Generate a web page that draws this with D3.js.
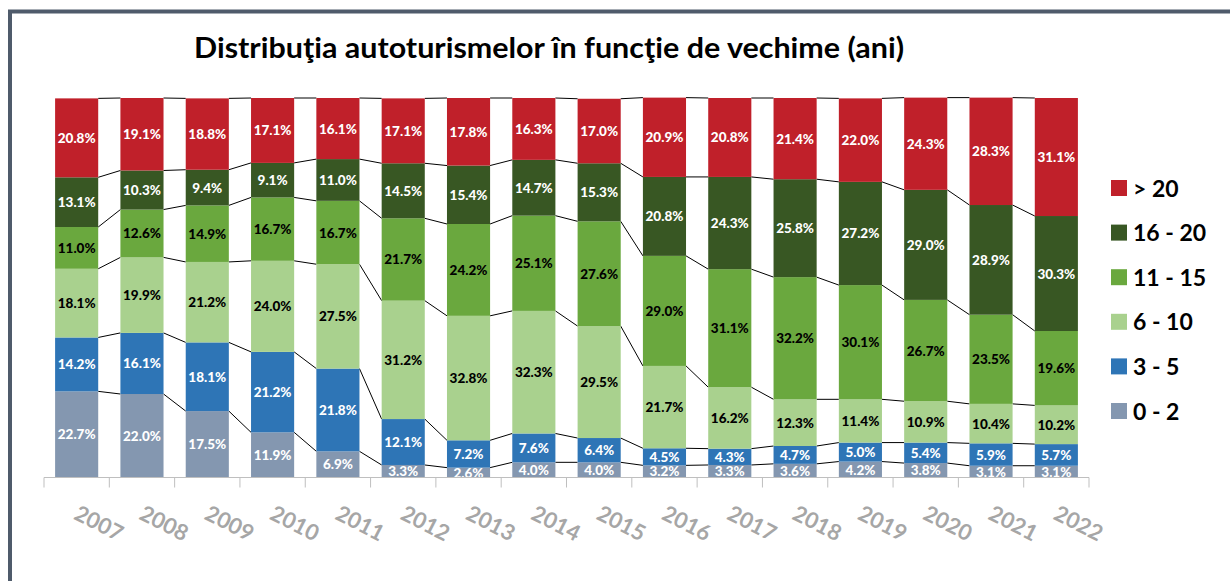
<!DOCTYPE html>
<html>
<head>
<meta charset="utf-8">
<script src="https://cdn.jsdelivr.net/npm/d3@7"></script>
<style>
  html, body { margin: 0; padding: 0; background: #ffffff; }
  svg { display: block; }
</style>
</head>
<body>
<svg id="chart" width="1230" height="581"></svg>
<script>
const years = ["2007","2008","2009","2010","2011","2012","2013","2014","2015","2016","2017","2018","2019","2020","2021","2022"];
const seriesNames = ["0 - 2","3 - 5","6 - 10","11 - 15","16 - 20","> 20"];
const age0_2   = [22.7,22.0,17.5,11.9,6.9,3.3,2.6,4.0,4.0,3.2,3.3,3.6,4.2,3.8,3.1,3.1];
const age3_5   = [14.2,16.1,18.1,21.2,21.8,12.1,7.2,7.6,6.4,4.5,4.3,4.7,5.0,5.4,5.9,5.7];
const age6_10  = [18.1,19.9,21.2,24.0,27.5,31.2,32.8,32.3,29.5,21.7,16.2,12.3,11.4,10.9,10.4,10.2];
const age11_15 = [11.0,12.6,14.9,16.7,16.7,21.7,24.2,25.1,27.6,29.0,31.1,32.2,30.1,26.7,23.5,19.6];
const age16_20 = [13.1,10.3,9.4,9.1,11.0,14.5,15.4,14.7,15.3,20.8,24.3,25.8,27.2,29.0,28.9,30.3];
const age20p   = [20.8,19.1,18.8,17.1,16.1,17.1,17.8,16.3,17.0,20.9,20.8,21.4,22.0,24.3,28.3,31.1];
const colors = ["#8497b0","#2e75b6","#a9d18e","#6aa83e","#385723","#c0202a"];
const labelColors = ["#ffffff","#ffffff","#000000","#000000","#ffffff","#ffffff"];
const titleText = "Distribuţia autoturismelor în funcţie de vechime (ani)";

const seriesValues = [age0_2, age3_5, age6_10, age11_15, age16_20, age20p];
const rows = years.map((yr, i) => {
  const r = { year: yr };
  seriesNames.forEach((s, k) => r[s] = seriesValues[k][i]);
  return r;
});

const svg = d3.select("#chart");

// frame
svg.append("rect")
  .attr("x", 10).attr("y", 11.5).attr("width", 1300).attr("height", 700)
  .attr("fill", "none").attr("stroke", "#4f5b6b").attr("stroke-width", 4);

// title
svg.append("text")
  .attr("x", 549).attr("y", 58)
  .attr("text-anchor", "middle")
  .attr("font-family", "Lato, 'Open Sans', sans-serif")
  .attr("font-weight", "bold")
  .attr("font-size", 29)
  .attr("textLength", 710)
  .attr("lengthAdjust", "spacingAndGlyphs")
  .attr("fill", "#000")
  .text(titleText);

const x = d3.scaleBand().domain(years).range([44, 1089]).paddingInner(0.34).paddingOuter(0.17);
const y = d3.scaleLinear().domain([0, 100]).range([477.5, 98]);
const bw = x.bandwidth();
const step = x.step();

const stack = d3.stack().keys(seriesNames);
const layers = stack(rows);

// connector lines
const lineG = svg.append("g");
layers.forEach(layer => {
  for (let i = 0; i < layer.length - 1; i++) {
    const a = layer[i], b = layer[i + 1];
    lineG.append("line")
      .attr("x1", x(a.data.year) + bw).attr("y1", y(a[1]))
      .attr("x2", x(b.data.year)).attr("y2", y(b[1]))
      .attr("stroke", "#000").attr("stroke-width", 1);
  }
});

// bars
const barG = svg.append("g");
layers.forEach((layer, k) => {
  barG.selectAll(null).data(layer).enter().append("rect")
    .attr("x", d => x(d.data.year))
    .attr("y", d => y(d[1]))
    .attr("width", bw)
    .attr("height", d => y(d[0]) - y(d[1]))
    .attr("fill", colors[k]);
});

// labels
const labG = svg.append("g")
  .attr("font-family", "Lato, 'Open Sans', sans-serif")
  .attr("font-weight", "900")
  .attr("font-size", 13.5)
  .attr("text-anchor", "middle");
layers.forEach((layer, k) => {
  labG.selectAll(null).data(layer).enter().append("text")
    .attr("x", d => x(d.data.year) + bw / 2)
    .attr("y", d => (y(d[0]) + y(d[1])) / 2 + 5)
    .attr("fill", labelColors[k])
    .text(d => d.data[seriesNames[k]].toFixed(1) + "%");
});

// x axis
const axisG = svg.append("g").attr("transform", "translate(0,477.5)");
axisG.append("line")
  .attr("x1", x.range()[0]).attr("x2", x.range()[1])
  .attr("y1", 0).attr("y2", 0)
  .attr("stroke", "#bfbfbf").attr("stroke-width", 1);
const bounds = years.map(yr => x(yr) - step * x.paddingInner() / 2);
bounds.push(x.range()[1]);
axisG.selectAll("line.tick").data(bounds).enter().append("line")
  .attr("class", "tick")
  .attr("x1", d => d).attr("x2", d => d)
  .attr("y1", 0).attr("y2", 10)
  .attr("stroke", "#bfbfbf").attr("stroke-width", 1);

const xAxis = d3.axisBottom(x).tickSize(0).tickSizeOuter(0);
const ax = svg.append("g").attr("transform", "translate(0,477.5)").call(xAxis);
ax.select(".domain").remove();
ax.selectAll(".tick text")
  .attr("font-family", "Lato, 'Open Sans', sans-serif")
  .attr("font-weight", "bold")
  .attr("font-size", 22)
  .attr("fill", "#a6a6a6")
  .attr("text-anchor", "start")
  .attr("y", 0).attr("dy", 0)
  .attr("transform", "translate(-4,41) rotate(27)");

// legend
const legendOrder = seriesNames.map((s, k) => ({ name: s, color: colors[k] })).reverse();
const lg = svg.append("g");
legendOrder.forEach((d, i) => {
  const cy = 188 + i * 44.6;
  lg.append("rect")
    .attr("x", 1111).attr("y", cy - 8).attr("width", 16).attr("height", 16)
    .attr("fill", d.color);
  lg.append("text")
    .attr("x", 1133).attr("y", cy + 8.5)
    .attr("font-family", "Lato, 'Open Sans', sans-serif")
    .attr("font-weight", "bold")
    .attr("font-size", 23)
    .attr("fill", "#000")
    .text(d.name);
});
</script>
</body>
</html>
